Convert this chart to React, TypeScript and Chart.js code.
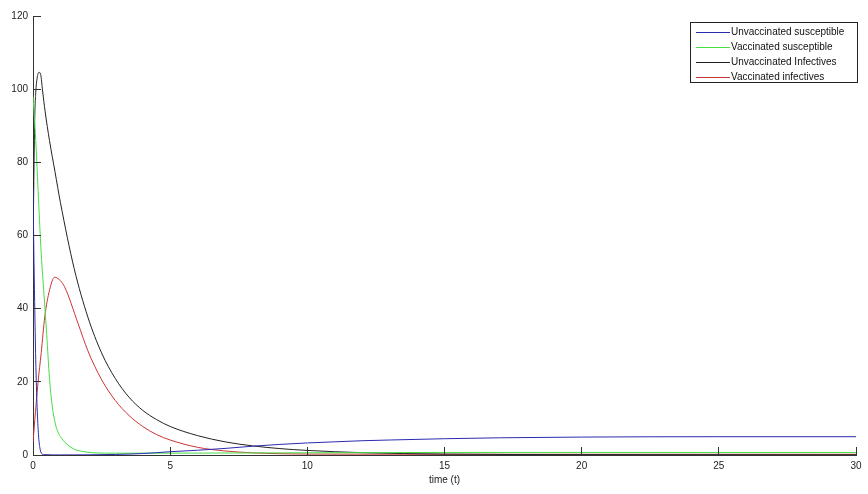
import React, { useEffect, useRef } from "react";
import { Chart, registerables } from "chart.js";

Chart.register(...registerables);

// ---- data ----
const xTicks = [0, 5, 10, 15, 20, 25, 30];
const yTicks = [0, 20, 40, 60, 80, 100, 120];
const seriesLabels = [
  "Unvaccinated susceptible",
  "Vaccinated susceptible",
  "Unvaccinated Infectives",
  "Vaccinated infectives",
];
const seriesColors = ["#2b2bb0", "#44dd44", "#222222", "#cc3333"];

const unvacSusT = [0, 0.03, 0.06, 0.1, 0.15, 0.2, 0.25, 0.3, 0.4, 1, 2, 3, 4, 5, 6, 7, 8, 9, 10, 11, 12, 13, 15, 17, 20, 25, 30];
const unvacSusV = [73, 56, 42, 26, 13, 5.5, 2, 0.6, 0.1, 0.02, 0.05, 0.15, 0.4, 0.9, 1.3, 1.8, 2.4, 2.9, 3.3, 3.6, 3.9, 4.1, 4.45, 4.7, 4.9, 5.0, 5.0];

const vacSusT = [0, 0.1, 0.2, 0.3, 0.4, 0.5, 0.6, 0.7, 0.8, 0.9, 1.0, 1.2, 1.5, 1.8, 2.2, 3, 5, 10, 15, 20, 30];
const vacSusV = [98, 86, 70, 55, 44, 33, 21, 13.5, 9, 6.5, 5, 3.2, 1.6, 1.0, 0.6, 0.5, 0.5, 0.6, 0.7, 0.7, 0.7];

const unvacInfT = [0, 0.03, 0.06, 0.1, 0.15, 0.22, 0.28, 0.35, 0.44, 0.6, 0.8, 1.0, 1.5, 2.0, 2.5, 3.0, 3.5, 4.0, 4.5, 5, 6, 7, 8, 9, 10, 12, 15, 20, 30];
const unvacInfV = [55, 75, 91, 99, 103, 104.6, 104, 99.5, 94, 86, 77.5, 69, 51, 37.7, 27.9, 20.9, 15.8, 12.2, 9.7, 7.8, 5.3, 3.6, 2.5, 1.75, 1.25, 0.64, 0.25, 0.1, 0.05];

const vacInfT = [0, 0.18, 0.3, 0.43, 0.6, 0.79, 0.95, 1.15, 1.64, 2.0, 2.5, 3.0, 3.5, 4.0, 4.5, 5, 6, 7, 8, 9, 10, 15, 30];
const vacInfV = [3.6, 19.6, 28, 37.8, 45, 48.6, 48, 46, 36, 28.5, 20.6, 14.9, 10.8, 7.8, 5.6, 4.1, 2.1, 1.1, 0.6, 0.35, 0.25, 0.2, 0.2];

const xTitle = "time (t)";

const FONT = "'Liberation Sans', Arial, sans-serif";

const toPoints = (t: number[], v: number[]) => t.map((x, i) => ({ x, y: v[i] }));

const overlayPlugin = {
  id: "overlay",
  afterDraw(chart: any) {
    const { ctx, chartArea, scales } = chart;
    ctx.save();
    // inward tick marks
    ctx.strokeStyle = "#333333";
    ctx.lineWidth = 1;
    ctx.beginPath();
    for (const v of xTicks) {
      const x = Math.floor(scales.x.getPixelForValue(v)) + 0.5;
      ctx.moveTo(x, chartArea.bottom);
      ctx.lineTo(x, chartArea.bottom - 8);
    }
    for (const v of yTicks) {
      const y = Math.floor(scales.y.getPixelForValue(v)) + 0.5;
      ctx.moveTo(chartArea.left, y);
      ctx.lineTo(chartArea.left + 8, y);
    }
    ctx.stroke();

    // legend box
    const bx = 690.5, by = 22.5, bw = 167, bh = 60;
    ctx.fillStyle = "#ffffff";
    ctx.fillRect(bx, by, bw, bh);
    ctx.strokeStyle = "#222222";
    ctx.strokeRect(bx, by, bw, bh);
    ctx.font = `10px ${FONT}`;
    ctx.textBaseline = "middle";
    ctx.textAlign = "left";
    seriesLabels.forEach((lab, i) => {
      const y = 31.8 + i * 15.2;
      ctx.strokeStyle = seriesColors[i];
      ctx.lineWidth = 1;
      ctx.beginPath();
      ctx.moveTo(696, Math.round(y) + 0.5);
      ctx.lineTo(730, Math.round(y) + 0.5);
      ctx.stroke();
      ctx.fillStyle = "#111111";
      ctx.fillText(lab, 731, y);
    });
    ctx.restore();
  },
};

export default function App() {
  const ref = useRef<HTMLCanvasElement | null>(null);
  useEffect(() => {
    document.body.style.margin = "0";
    const canvas = ref.current;
    if (!canvas) return;
    const seriesT = [unvacSusT, vacSusT, unvacInfT, vacInfT];
    const seriesV = [unvacSusV, vacSusV, unvacInfV, vacInfV];
    const chart = new Chart(canvas, {
      type: "line",
      data: {
        datasets: seriesLabels.map((label, i) => ({
          label,
          data: toPoints(seriesT[i], seriesV[i]),
          borderColor: seriesColors[i],
          backgroundColor: seriesColors[i],
          borderWidth: 1,
          pointRadius: 0,
          fill: false,
          cubicInterpolationMode: "monotone" as const,
        })),
      },
      options: {
        responsive: false,
        animation: false,
        layout: { padding: { top: 16, right: 12, left: 0, bottom: 0 } },
        plugins: {
          legend: { display: false },
          tooltip: { enabled: false },
          title: { display: false },
        },
        scales: {
          x: {
            type: "linear",
            min: 0,
            max: 30,
            afterFit: (s: any) => {
              s.height = 39;
            },
            afterBuildTicks: (s: any) => {
              s.ticks = xTicks.map((value) => ({ value }));
            },
            grid: { display: false, drawTicks: false },
            border: { display: true, color: "#333333", width: 1 },
            ticks: {
              padding: 5,
              color: "#222222",
              font: { family: FONT, size: 10 },
              maxRotation: 0,
              autoSkip: false,
            },
            title: {
              display: true,
              text: xTitle,
              color: "#222222",
              font: { family: FONT, size: 10 },
              padding: { top: 0, bottom: 8 },
            },
          },
          y: {
            type: "linear",
            min: 0,
            max: 120,
            afterFit: (s: any) => {
              s.width = 33;
            },
            afterBuildTicks: (s: any) => {
              s.ticks = yTicks.map((value) => ({ value }));
            },
            grid: { display: false, drawTicks: false },
            border: { display: true, color: "#333333", width: 1 },
            ticks: {
              padding: 5,
              color: "#222222",
              font: { family: FONT, size: 10 },
              autoSkip: false,
            },
          },
        },
      },
      plugins: [overlayPlugin],
    });
    return () => chart.destroy();
  }, []);
  return <canvas ref={ref} width={868} height={494} style={{ display: "block" }} />;
}
